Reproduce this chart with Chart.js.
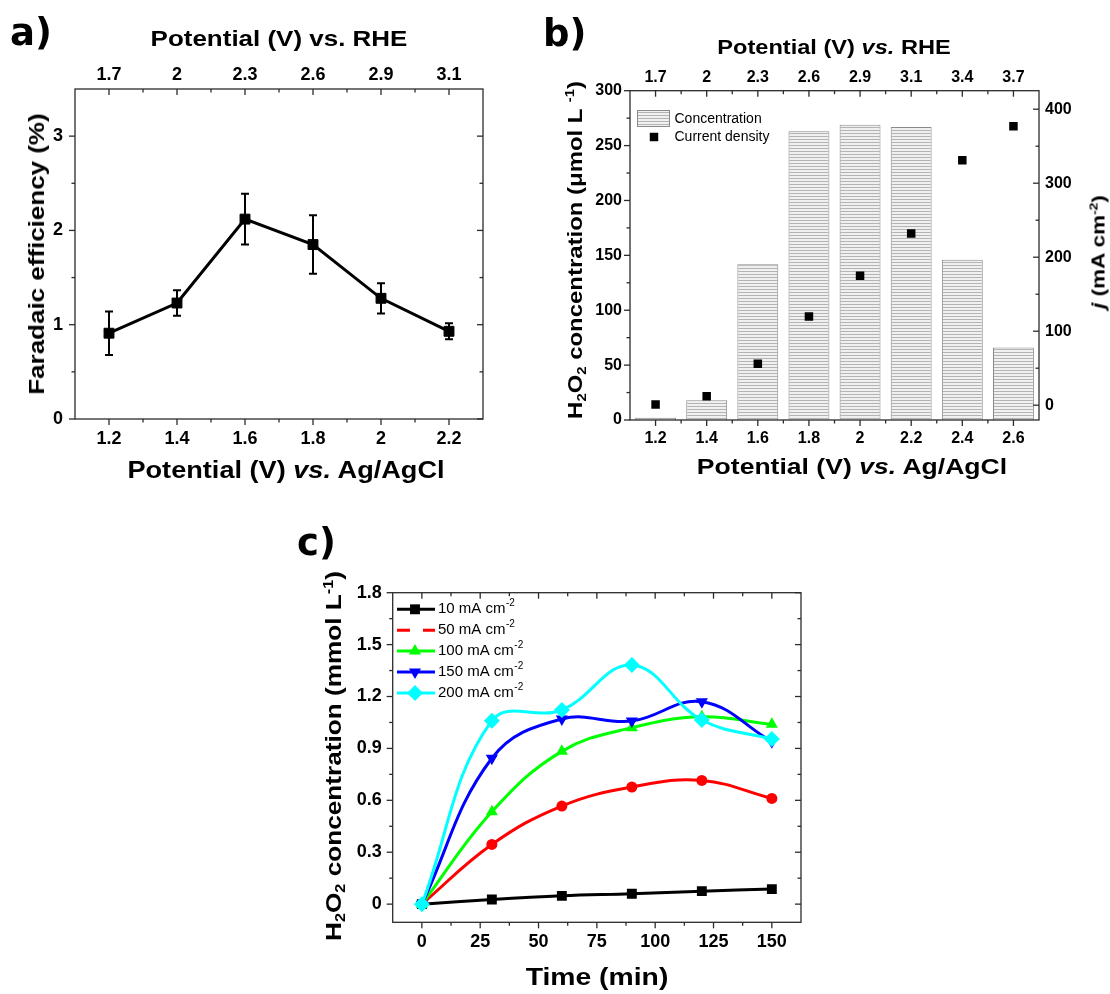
<!DOCTYPE html>
<html>
<head>
<meta charset="utf-8">
<script src="https://cdn.jsdelivr.net/npm/chart.js@4.4.1/dist/chart.umd.min.js"></script>
<style>
  html, body { margin: 0; padding: 0; background: #fff; }
  #page { position: relative; width: 1110px; height: 994px; overflow: hidden; background: #fff; }
  #page canvas { position: absolute; }
  .t { position: absolute; white-space: nowrap; font-family: "Liberation Sans", Arial, sans-serif;
       font-weight: bold; line-height: 1; color: #000; }
  .t sub { font-size: 0.62em; vertical-align: -0.3em; line-height: 0; }
  .t sup { font-size: 0.62em; vertical-align: 0.6em; line-height: 0; }
  .h { transform: translate(-50%, -50%) scaleX(1.18); }
  .v { transform: translate(-50%, -50%) rotate(-90deg) scaleX(1.18); }
  .panel { position: absolute; font-family: "DejaVu Sans", sans-serif; font-weight: bold;
           font-size: 37px; line-height: 1; color: #000; }
</style>
</head>
<body>
<div id="page">
  <canvas id="chartA" width="540" height="480" style="left:0;top:0"></canvas>
  <canvas id="chartB" width="570" height="480" style="left:540px;top:0"></canvas>
  <canvas id="chartC" width="540" height="494" style="left:290px;top:500px"></canvas>

  <div class="panel" style="left:10px;top:14px">a)</div>
  <div class="panel" style="left:543px;top:15px">b)</div>
  <div class="panel" style="left:297px;top:524px">c)</div>

  <div class="t h" style="left:279px;top:39px;font-size:22px">Potential (V) vs. RHE</div>
  <div class="t h" style="left:286px;top:470px;font-size:23px">Potential (V) <i>vs.</i> Ag/AgCl</div>
  <div class="t v" style="left:37px;top:254px;font-size:22px">Faradaic efficiency (%)</div>

  <div class="t h" style="left:834px;top:47px;font-size:20px">Potential (V) <i>vs.</i> RHE</div>
  <div class="t h" style="left:852px;top:467px;font-size:22.5px">Potential (V) <i>vs.</i> Ag/AgCl</div>
  <div class="t v" style="left:575px;top:250px;font-size:20.3px">H<sub>2</sub>O<sub>2</sub> concentration (μmol L <sup>-1</sup>)</div>
  <div class="t v" style="left:1098px;top:252px;font-size:19px"><i>j</i> (mA cm<sup>-2</sup>)</div>

  <div class="t v" style="left:334px;top:756px;font-size:22.2px">H<sub>2</sub>O<sub>2</sub> concentration (mmol L<sup>-1</sup>)</div>
  <div class="t h" style="left:597px;top:977px;font-size:24px">Time (min)</div>
</div>

<script>
// ---------- Panel a: Faradaic efficiency ----------
const potentialsA = [1.2, 1.4, 1.6, 1.8, 2.0, 2.2];
const rheLabelsA  = ['1.7', '2', '2.3', '2.6', '2.9', '3.1'];
const faradaic    = [0.91, 1.23, 2.12, 1.85, 1.28, 0.93];
const faradaicErr = [0.23, 0.135, 0.27, 0.31, 0.16, 0.085];
const feTicks     = [0, 1, 2, 3];

// ---------- Panel b: H2O2 concentration and current density ----------
const potentialsB    = [1.2, 1.4, 1.6, 1.8, 2.0, 2.2, 2.4, 2.6];
const rheLabelsB     = ['1.7', '2', '2.3', '2.6', '2.9', '3.1', '3.4', '3.7'];
const h2o2Conc       = [2, 18, 142, 263, 269, 267, 146, 66];
const currentDensity = [1, 12, 56, 120, 175, 232, 331, 377];
const concTicksB     = [0, 50, 100, 150, 200, 250, 300];
const jTicksB        = [0, 100, 200, 300, 400];

// ---------- Panel c: H2O2 accumulation over time ----------
const timeMin  = [0, 30, 60, 90, 120, 150];
const conc10   = [0, 0.027, 0.048, 0.060, 0.075, 0.087];
const conc50   = [0, 0.345, 0.567, 0.677, 0.715, 0.611];
const conc100  = [0, 0.534, 0.883, 1.020, 1.083, 1.039];
const conc150  = [0, 0.843, 1.070, 1.058, 1.170, 0.939];
const conc200  = [0, 1.060, 1.122, 1.382, 1.064, 0.954];
const currentsC   = ['10', '50', '100', '150', '200'];
const concTicksC  = [0, 0.3, 0.6, 0.9, 1.2, 1.5, 1.8];
const timeTicksC  = [0, 25, 50, 75, 100, 125, 150];

Chart.defaults.font.family = '"Liberation Sans", Arial, Helvetica, sans-serif';
Chart.defaults.color = '#000';

const fmt = v => String(+Number(v).toFixed(3));
const pairs = (xs, ys) => xs.map((x, i) => ({ x: x, y: ys[i] }));

// Linear axis with fixed tick positions and a fixed box size, no built-in grid/border
function axis({ position, min, max, values, size, font, padding, labels, show = true }) {
  const horizontal = position === 'top' || position === 'bottom';
  return {
    type: 'linear', position, min, max, offset: false,
    grid: { display: false, drawTicks: false },
    border: { display: false },
    afterBuildTicks: s => { s.ticks = values.map(v => ({ value: v })); },
    afterFit: s => { if (horizontal) s.height = size; else s.width = size; },
    ticks: {
      display: show,
      font: { size: font, weight: 'bold' },
      padding, autoSkip: false, maxRotation: 0, minRotation: 0,
      callback: labels ? (v, i) => labels[i] : fmt
    }
  };
}

// Minor tick positions strictly inside the axis range, skipping major ones
function minorTicks(min, max, step, majors) {
  const out = [];
  for (let k = Math.ceil(min / step - 1e-9); k * step <= max + 1e-9; k++) {
    const v = k * step;
    if (Math.abs(v - min) < step * 0.05 || Math.abs(v - max) < step * 0.05) continue;
    if (majors.some(m => Math.abs(m - v) < step * 0.05)) continue;
    out.push(v);
  }
  return out;
}

// Plot frame plus major/minor tick marks on all four sides
function makeFrame(sides) {
  return {
    id: 'frame',
    afterDatasetsDraw(chart) {
      const { ctx, chartArea: a } = chart;
      ctx.save();
      ctx.strokeStyle = '#2b2b2b';
      ctx.lineWidth = 1.3;
      ctx.strokeRect(a.left, a.top, a.right - a.left, a.bottom - a.top);
      sides.forEach(s => {
        const sc = chart.scales[s.scale];
        const sign = s.dir === 'out' ? 1 : -1;
        const mark = (v, len) => {
          const p = sc.getPixelForValue(v);
          ctx.beginPath();
          if (s.pos === 'left')       { ctx.moveTo(a.left, p);  ctx.lineTo(a.left - sign * len, p); }
          else if (s.pos === 'right') { ctx.moveTo(a.right, p); ctx.lineTo(a.right + sign * len, p); }
          else if (s.pos === 'top')   { ctx.moveTo(p, a.top);   ctx.lineTo(p, a.top - sign * len); }
          else                        { ctx.moveTo(p, a.bottom); ctx.lineTo(p, a.bottom + sign * len); }
          ctx.stroke();
        };
        s.major.forEach(v => mark(v, 6));
        s.minor.forEach(v => mark(v, 3.5));
      });
      ctx.restore();
    }
  };
}

// Small marker painter used by the hand-drawn legends
function marker(ctx, style, x, y, r, color, rotationDeg) {
  ctx.save();
  ctx.fillStyle = color;
  ctx.beginPath();
  if (style === 'rect') {
    const h = r * Math.SQRT1_2;
    ctx.rect(x - h, y - h, 2 * h, 2 * h);
  } else if (style === 'circle') {
    ctx.arc(x, y, r, 0, Math.PI * 2);
  } else if (style === 'triangle') {
    const rot = (rotationDeg || 0) * Math.PI / 180;
    [0, 2 * Math.PI / 3, 4 * Math.PI / 3].forEach((s, i) => {
      const px = x + Math.sin(s + rot) * r;
      const py = y - Math.cos(s + rot) * r;
      if (i === 0) ctx.moveTo(px, py); else ctx.lineTo(px, py);
    });
    ctx.closePath();
  } else if (style === 'rectRot') {
    ctx.moveTo(x - r, y); ctx.lineTo(x, y - r); ctx.lineTo(x + r, y); ctx.lineTo(x, y + r);
    ctx.closePath();
  }
  ctx.fill();
  ctx.restore();
}

const common = {
  responsive: false, animation: false, devicePixelRatio: 1, events: [],
};

// ================= Panel a =================
const errorBars = {
  id: 'errorBars',
  beforeDatasetsDraw(chart) {
    const { ctx, scales: { x, y } } = chart;
    ctx.save();
    ctx.strokeStyle = '#000';
    ctx.lineWidth = 2;
    potentialsA.forEach((p, i) => {
      const px = x.getPixelForValue(p);
      const top = y.getPixelForValue(faradaic[i] + faradaicErr[i]);
      const bot = y.getPixelForValue(faradaic[i] - faradaicErr[i]);
      ctx.beginPath();
      ctx.moveTo(px, top); ctx.lineTo(px, bot);
      ctx.moveTo(px - 4, top); ctx.lineTo(px + 4, top);
      ctx.moveTo(px - 4, bot); ctx.lineTo(px + 4, bot);
      ctx.stroke();
    });
    ctx.restore();
  }
};

new Chart(document.getElementById('chartA'), {
  type: 'line',
  data: {
    datasets: [{
      label: 'Faradaic efficiency',
      data: pairs(potentialsA, faradaic),
      borderColor: '#000', backgroundColor: '#000', borderWidth: 3,
      pointStyle: 'rect', pointRadius: 7, pointBorderWidth: 1, tension: 0
    }]
  },
  options: {
    ...common,
    layout: { padding: { right: 57 } },
    plugins: { legend: { display: false }, tooltip: { enabled: false } },
    scales: {
      x:  axis({ position: 'bottom', min: 1.1, max: 2.3, values: potentialsA, size: 61, font: 18, padding: 9 }),
      x2: axis({ position: 'top', min: 1.1, max: 2.3, values: potentialsA, size: 89, font: 18, padding: 3, labels: rheLabelsA }),
      y:  axis({ position: 'left', min: 0, max: 3.5, values: feTicks, size: 75, font: 18, padding: 12 })
    }
  },
  plugins: [errorBars, makeFrame([
    { pos: 'left',   scale: 'y',  dir: 'out', major: feTicks, minor: minorTicks(0, 3.5, 0.5, feTicks) },
    { pos: 'right',  scale: 'y',  dir: 'in',  major: feTicks, minor: minorTicks(0, 3.5, 0.5, feTicks) },
    { pos: 'bottom', scale: 'x',  dir: 'out', major: potentialsA, minor: minorTicks(1.1, 2.3, 0.1, potentialsA) },
    { pos: 'top',    scale: 'x2', dir: 'in',  major: potentialsA, minor: minorTicks(1.1, 2.3, 0.1, potentialsA) }
  ])]
});

// ================= Panel b =================
function hatchPattern() {
  const c = document.createElement('canvas');
  c.width = 4; c.height = 3;
  const g = c.getContext('2d');
  g.fillStyle = '#f0f0f0'; g.fillRect(0, 0, 4, 3);
  g.fillStyle = '#b4b4b4'; g.fillRect(0, 1, 4, 1);
  return g.createPattern(c, 'repeat');
}
const hatch = hatchPattern();

const legendB = {
  id: 'legendB',
  afterDraw(chart) {
    const ctx = chart.ctx;
    ctx.save();
    ctx.fillStyle = hatch;
    ctx.fillRect(97.5, 110, 32, 16);
    ctx.strokeStyle = '#8a8a8a'; ctx.lineWidth = 1;
    ctx.strokeRect(97.5, 110.5, 32, 16);
    marker(ctx, 'rect', 114, 137, 6, '#000');
    ctx.fillStyle = '#000';
    ctx.font = '14px "Liberation Sans", Arial, sans-serif';
    ctx.textBaseline = 'middle';
    ctx.fillText('Concentration', 134.5, 119);
    ctx.fillText('Current density', 134.5, 137);
    ctx.restore();
  }
};

new Chart(document.getElementById('chartB'), {
  type: 'bar',
  data: {
    datasets: [
      {
        type: 'bar', label: 'Concentration', data: pairs(potentialsB, h2o2Conc),
        backgroundColor: hatch, borderColor: '#8a8a8a', borderWidth: 1,
        categoryPercentage: 1, barPercentage: 0.8, yAxisID: 'y', order: 2
      },
      {
        type: 'line', label: 'Current density', data: pairs(potentialsB, currentDensity),
        showLine: false, pointStyle: 'rect', pointRadius: 6, pointBorderWidth: 0,
        backgroundColor: '#000', borderColor: '#000', yAxisID: 'y2', order: 1
      }
    ]
  },
  options: {
    ...common,
    plugins: { legend: { display: false }, tooltip: { enabled: false } },
    scales: {
      x:  axis({ position: 'bottom', min: 1.1, max: 2.7, values: potentialsB, size: 60, font: 16, padding: 9 }),
      x2: axis({ position: 'top', min: 1.1, max: 2.7, values: potentialsB, size: 90.7, font: 16, padding: 4, labels: rheLabelsB }),
      y:  axis({ position: 'left', min: 0, max: 300, values: concTicksB, size: 90, font: 16, padding: 8 }),
      y2: axis({ position: 'right', min: -20, max: 425, values: jTicksB, size: 71, font: 16, padding: 6 })
    }
  },
  plugins: [makeFrame([
    { pos: 'left',   scale: 'y',  dir: 'out', major: concTicksB, minor: minorTicks(0, 300, 25, concTicksB) },
    { pos: 'right',  scale: 'y2', dir: 'in',  major: jTicksB, minor: minorTicks(-20, 425, 50, jTicksB) },
    { pos: 'bottom', scale: 'x',  dir: 'out', major: potentialsB, minor: minorTicks(1.1, 2.7, 0.1, potentialsB) },
    { pos: 'top',    scale: 'x2', dir: 'in',  major: potentialsB, minor: minorTicks(1.1, 2.7, 0.1, potentialsB) }
  ]), legendB]
});

// ================= Panel c =================
const seriesC = [conc10, conc50, conc100, conc150, conc200];
const looksC = [
  { color: '#000000', point: 'rect',     radius: 7,   rotation: 0 },
  { color: '#ff0000', point: 'circle',   radius: 5.5, rotation: 0 },
  { color: '#00ff00', point: 'triangle', radius: 7,   rotation: 0 },
  { color: '#0000ff', point: 'triangle', radius: 7,   rotation: 180 },
  { color: '#00ffff', point: 'rectRot',  radius: 8,   rotation: 0 }
];

const legendC = {
  id: 'legendC',
  afterDraw(chart) {
    const ctx = chart.ctx;
    ctx.save();
    currentsC.forEach((cur, i) => {
      const look = looksC[i];
      const y = 109.3 + i * 20.9;
      ctx.strokeStyle = look.color;
      ctx.lineWidth = 3;
      ctx.beginPath();
      if (i === 1) {
        ctx.moveTo(107, y); ctx.lineTo(120, y);
        ctx.moveTo(133, y); ctx.lineTo(145, y);
      } else {
        ctx.moveTo(107, y); ctx.lineTo(145, y);
      }
      ctx.stroke();
      if (i !== 1) marker(ctx, look.point, 125, y, look.radius, look.color, look.rotation);
      ctx.fillStyle = '#000';
      ctx.textBaseline = 'middle';
      ctx.font = '15px "Liberation Sans", Arial, sans-serif';
      const main = cur + ' mA cm';
      ctx.fillText(main, 148, y);
      const w = ctx.measureText(main).width;
      ctx.font = '10px "Liberation Sans", Arial, sans-serif';
      ctx.fillText('-2', 148 + w + 0.5, y - 6);
    });
    ctx.restore();
  }
};

new Chart(document.getElementById('chartC'), {
  type: 'line',
  data: {
    datasets: seriesC.map((vals, i) => ({
      label: currentsC[i] + ' mA cm-2',
      data: pairs(timeMin, vals),
      borderColor: looksC[i].color, backgroundColor: looksC[i].color,
      borderWidth: 3, tension: 0.4,
      pointStyle: looksC[i].point, pointRadius: looksC[i].radius,
      pointRotation: looksC[i].rotation, pointBorderWidth: 0,
      order: seriesC.length - i
    }))
  },
  options: {
    ...common,
    layout: { padding: { top: 92.7, right: 29 } },
    plugins: { legend: { display: false }, tooltip: { enabled: false } },
    scales: {
      x: axis({ position: 'bottom', min: -12.5, max: 162.5, values: timeTicksC, size: 71.7, font: 18, padding: 9 }),
      y: axis({ position: 'left', min: -0.105, max: 1.8, values: concTicksC, size: 102.7, font: 18, padding: 11 })
    }
  },
  plugins: [makeFrame([
    { pos: 'left',   scale: 'y', dir: 'out', major: concTicksC, minor: minorTicks(-0.105, 1.8, 0.15, concTicksC) },
    { pos: 'right',  scale: 'y', dir: 'in',  major: concTicksC, minor: minorTicks(-0.105, 1.8, 0.15, concTicksC) },
    { pos: 'bottom', scale: 'x', dir: 'out', major: timeTicksC, minor: minorTicks(-12.5, 162.5, 12.5, timeTicksC) },
    { pos: 'top',    scale: 'x', dir: 'in',  major: timeTicksC, minor: minorTicks(-12.5, 162.5, 12.5, timeTicksC) }
  ]), legendC]
});
</script>
</body>
</html>
